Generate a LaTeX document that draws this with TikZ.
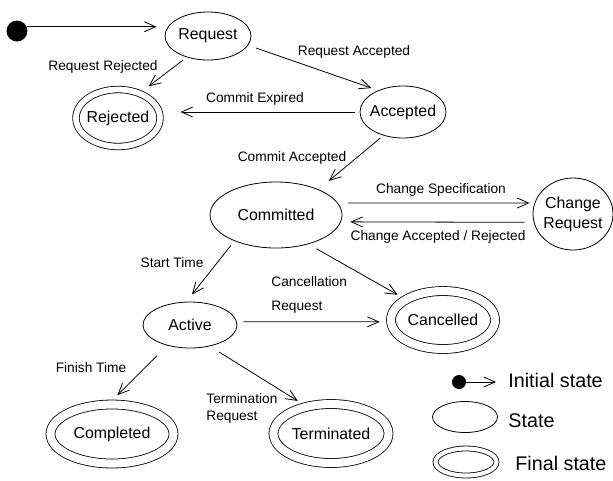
\documentclass[tikz,border=0pt]{standalone}
\usepackage{fontspec}
\setsansfont{Liberation Sans}
\usetikzlibrary{arrows.meta,shapes.geometric}

\begin{document}
\begin{tikzpicture}[x=0.75pt,y=-0.75pt,font=\sffamily,line width=0.6pt,
  state/.style={draw,ellipse,inner xsep=-6pt,inner ysep=-3pt,font=\sffamily\fontsize{11.9}{15}\selectfont},
  final/.style={state,double,double distance=6.1pt},
  lbl/.style={inner sep=0pt,font=\sffamily\fontsize{10.3}{12}\selectfont},
  key/.style={inner sep=0pt,anchor=west,font=\sffamily\fontsize{14.8}{17}\selectfont},
  trans/.style={-{Straight Barb[length=8.5pt,width=7.5pt]}}]
\useasboundingbox (0,0) rectangle (613,480);
\node[circle,fill,inner sep=0pt,minimum size=15.75pt] (init) at (17,31) {};
\node[state,minimum width=64.5pt,minimum height=36pt] (request) at (208,36) {Request};
\node[final,double distance=4.3pt,minimum width=63pt,minimum height=42.75pt] (rejected) at (118,118) {Rejected};
\node[state,minimum width=64.5pt,minimum height=39pt] (accepted) at (403,112) {Accepted};
\node[state,minimum width=99pt,minimum height=49.5pt] (committed) at (276,215) {Committed};
\node[state,align=center,minimum width=60pt,minimum height=54pt] (changereq) at (573,214) {Change\\Request};
\node[state,minimum width=70.5pt,minimum height=34.5pt] (active) at (190,325) {Active};
\node[final,minimum width=78pt,minimum height=43.5pt] (cancelled) at (443,320) {Cancelled};
\node[final,minimum width=92.25pt,minimum height=44.25pt] (completed) at (112,434) {Completed};
\node[final,minimum width=86.25pt,minimum height=44.25pt] (terminated) at (331,433.5) {Terminated};

\node[lbl] (lreqrej) at (103,67) {Request Rejected};
\node[lbl] (lreqacc) at (354,52) {Request Accepted};
\node[lbl] (lexpired) at (255,99) {Commit Expired};
\node[lbl] (lcommit) at (292,158) {Commit Accepted};
\node[lbl] (lchspec) at (441,190) {Change Specification};
\node[lbl] (lchacc) at (438,237) {Change Accepted / Rejected};
\node[lbl] (lstart) at (172,263) {Start Time};
\node[lbl,anchor=west,align=left,font=\sffamily\fontsize{10.3}{18}\selectfont] (lcancel) at (271,295) {Cancellation\\Request};
\node[lbl] (lfinish) at (91,368) {Finish Time};
\node[lbl,anchor=west,align=left,font=\sffamily\fontsize{10.3}{12.75}\selectfont] (lterm) at (206,408.5) {Termination\\Request};

\draw[trans,shorten >=6pt] (init.23) -- (init.23 -| request.west);
\draw[trans,shorten <=3.5pt,shorten >=8.5pt] (request.-135) -- (rejected.49);
\draw[trans,shorten <=6.4pt,shorten >=5.3pt] (request.-13) -- (accepted.139);
\draw[trans,shorten <=3.75pt,shorten >=15pt] (accepted.west) -- (rejected.east |- accepted.west);
\draw[trans,shorten <=2.8pt,shorten >=10pt] (accepted.-130) -- (committed.31);
\draw[trans,shorten <=7.5pt,shorten >=3.75pt] (committed.11) -- (changereq.164);
\draw[trans,shorten <=6.75pt,shorten >=7pt] (changereq.192) -- (committed.-6);
\draw[trans,shorten <=4.4pt,shorten >=6.9pt] (committed.-148) -- (active.99);
\draw[trans,shorten <=7pt,shorten >=7pt] (committed.-42) -- (cancelled.151);
\draw[trans,shorten <=4.8pt,shorten >=8.25pt] (active.4) -- (cancelled.182);
\draw[trans,shorten <=10.9pt,shorten >=9.5pt] (active.-138) -- (completed.97);
\draw[trans,shorten <=8.25pt,shorten >=7.8pt] (active.-47) -- (terminated.132);

\node[circle,fill,inner sep=0pt,minimum size=10.5pt] (kdot) at (459,382) {};
\coordinate (ktip) at (496,382);
\draw[trans] (kdot) -- (ktip);
\node[key] (kinit) at (508,380) {Initial state};
\node[state,minimum width=48.75pt,minimum height=23.25pt] (kstate) at (465,417) {};
\node[key] (kstatetxt) at (508,421) {State};
\node[final,double distance=3.1pt,minimum width=45.75pt,minimum height=20.25pt] (kfinal) at (466,462) {};
\node[key] (kfinaltxt) at (515,463) {Final state};
\end{tikzpicture}
\end{document}
